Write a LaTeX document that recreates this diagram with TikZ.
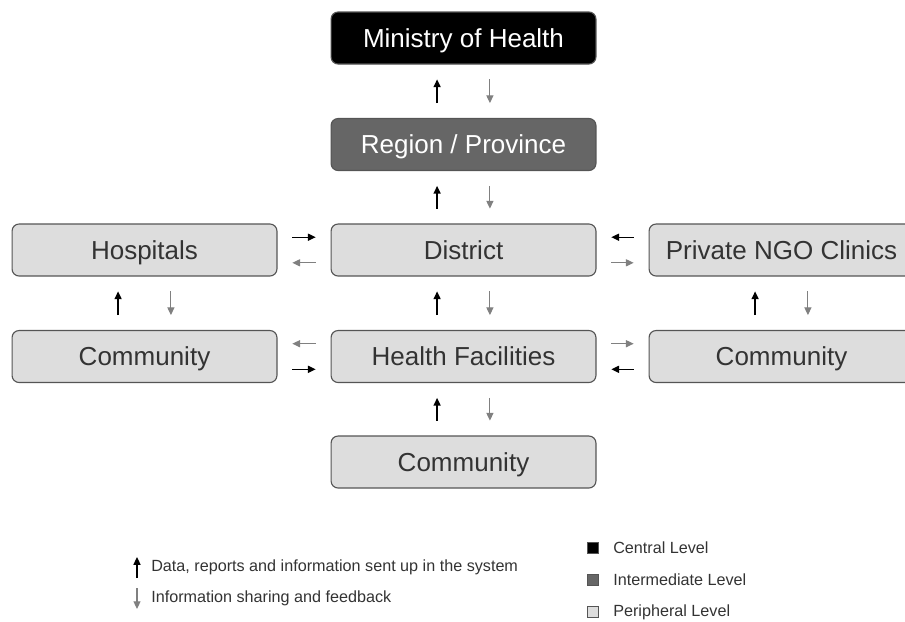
\documentclass[tikz,border=0pt]{standalone}
\usepackage{fontspec}
\setmainfont{Liberation Sans}
\usetikzlibrary{arrows.meta}
\definecolor{midgray}{HTML}{666666}
\definecolor{pergray}{HTML}{DDDDDD}
\definecolor{edgegray}{HTML}{555555}
\definecolor{txtgray}{HTML}{333333}
\definecolor{fbgray}{HTML}{808080}
\tikzset{%
    box/.style={rectangle, rounded corners=5pt, draw=edgegray, line width=0.8pt,
        minimum width=6.62cm, minimum height=1.3cm, inner sep=0pt,
        text height=13.25pt, text depth=0pt,
        font=\fontsize{18.5}{22}\selectfont},
    cen/.style={box, fill=black, text=white},
    mid/.style={box, fill=midgray, text=white},
    per/.style={box, fill=pergray, text=txtgray},
    upa/.style={line width=0.9pt, -{Triangle[length=5.5pt,width=5pt]}},
    dna/.style={line width=0.8pt, draw=fbgray, -{Triangle[length=5.5pt,width=5pt]}, fbgray},
    gap/.style={shorten <=0.37cm, shorten >=0.37cm},
    leg/.style={anchor=west, text=txtgray, inner sep=0pt, font=\fontsize{11.5}{14}\selectfont},
    sq/.style={rectangle, draw=edgegray, line width=0.6pt, minimum size=0.27cm, inner sep=0pt},
}
\begin{document}
\begin{tikzpicture}[x=0.025cm, y=-0.025cm]
    \useasboundingbox (0,0) rectangle (905,621);
    % levels
    \node [cen] (moh) at (463.5,38) {Ministry of Health};
    \node [mid] (reg) at (463.5,144.5) {Region / Province};
    \node [per] (hosp) at (144.5,250) {Hospitals};
    \node [per] (dist) at (463.5,250) {District};
    \node [per] (ngo) at (781.5,250) {Private NGO Clinics};
    \node [per] (coml) at (144.5,356.5) {Community};
    \node [per] (hf) at (463.5,356.5) {Health Facilities};
    \node [per] (comr) at (781.5,356.5) {Community};
    \node [per] (comb) at (463.5,462) {Community};
    % vertical pairs
    \foreach \lo/\hi in {reg/moh, dist/reg, hf/dist, comb/hf, coml/hosp, comr/ngo}{
        \draw [upa,gap] ([xshift=-0.66cm]\lo.north) -- ([xshift=-0.66cm]\hi.south);
        \draw [dna,gap] ([xshift=0.66cm]\hi.south) -- ([xshift=0.66cm]\lo.north);
    }
    % horizontal pairs
    \draw [upa,gap] ([yshift=0.32cm]hosp.east) -- ([yshift=0.32cm]dist.west);
    \draw [dna,gap] ([yshift=-0.32cm]dist.west) -- ([yshift=-0.32cm]hosp.east);
    \draw [upa,gap] ([yshift=0.32cm]ngo.west) -- ([yshift=0.32cm]dist.east);
    \draw [dna,gap] ([yshift=-0.32cm]dist.east) -- ([yshift=-0.32cm]ngo.west);
    \draw [dna,gap] ([yshift=0.32cm]hf.west) -- ([yshift=0.32cm]coml.east);
    \draw [upa,gap] ([yshift=-0.32cm]coml.east) -- ([yshift=-0.32cm]hf.west);
    \draw [dna,gap] ([yshift=0.32cm]hf.east) -- ([yshift=0.32cm]comr.west);
    \draw [upa,gap] ([yshift=-0.32cm]comr.west) -- ([yshift=-0.32cm]hf.east);
    % legend
    \coordinate (u0) at (137,578);
    \coordinate (u1) at (137,557);
    \coordinate (d0) at (137,588);
    \coordinate (d1) at (137,609);
    \draw [upa] (u0) -- (u1);
    \draw [dna] (d0) -- (d1);
    \node [leg] (ltup) at (151,567) {Data, reports and information sent up in the system};
    \node [leg] (ltdn) at (151,598) {Information sharing and feedback};
    \node [sq, fill=black] (sqc) at (593,548) {};
    \node [sq, fill=midgray] (sqi) at (593,580) {};
    \node [sq, fill=pergray] (sqp) at (593,612) {};
    \node [leg] (lc) at (613,548) {Central Level};
    \node [leg] (li) at (613,580) {Intermediate Level};
    \node [leg] (lp) at (613,612) {Peripheral Level};
\end{tikzpicture}
\end{document}
